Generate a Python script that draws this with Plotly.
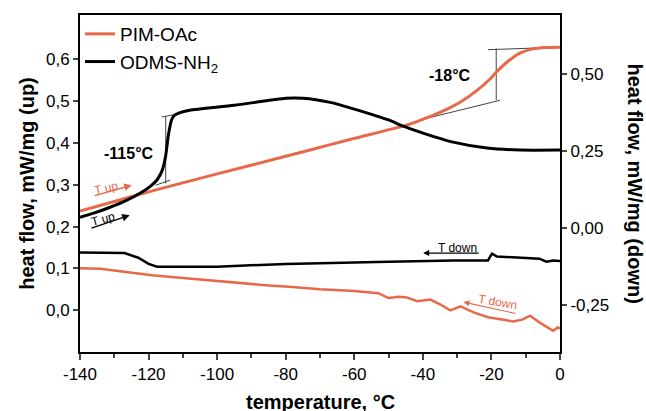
import plotly.graph_objects as go

# ---------------- data ----------------
# heating curves (left axis, "up")
pim_up_T = [-140, -130, -120, -100, -80, -67, -60, -45, -40.8, -35, -29, -24.3, -20.4, -18.6, -15.5, -11.7, -7.9, -4, 0]
pim_up_V = [0.237, 0.260, 0.283, 0.326, 0.368, 0.396, 0.411, 0.442, 0.454, 0.473, 0.498, 0.525, 0.553, 0.569, 0.593, 0.615, 0.625, 0.628, 0.629]

odms_up_T = [-140, -136, -131.6, -126.6, -122, -119.5, -117.5, -116, -115, -114.2, -113.3, -112.5, -111, -108, -95, -80, -75, -67, -60, -50, -45.7, -40.8, -31.2, -21.3, -11.7, 0]
odms_up_V = [0.222, 0.232, 0.245, 0.262, 0.282, 0.296, 0.312, 0.335, 0.370, 0.420, 0.455, 0.466, 0.472, 0.478, 0.490, 0.507, 0.507, 0.497, 0.481, 0.455, 0.440, 0.426, 0.402, 0.388, 0.383, 0.383]

# cooling curves (right axis, "down")
odms_down_T = [-140, -127, -123, -120, -117.5, -110, -100, -80, -67, -50, -31, -21, -20.3, -19.8, -18.4, -12, -6, -4, -2, 0]
odms_down_V = [-0.078, -0.080, -0.095, -0.115, -0.124, -0.125, -0.124, -0.115, -0.111, -0.108, -0.104, -0.104, -0.090, -0.082, -0.091, -0.094, -0.098, -0.108, -0.104, -0.106]

pim_down_T = [-140, -134, -126, -119, -110, -100, -92, -85, -78, -70, -60, -53, -50, -47, -45, -41.6, -37.8, -35, -32, -29, -25, -21, -16, -13.7, -11, -8.7, -6, -4, -2, -0.6, 0]
pim_down_V = [-0.129, -0.131, -0.142, -0.152, -0.161, -0.171, -0.177, -0.185, -0.190, -0.197, -0.203, -0.210, -0.226, -0.222, -0.223, -0.236, -0.231, -0.246, -0.266, -0.253, -0.273, -0.288, -0.297, -0.302, -0.296, -0.283, -0.305, -0.318, -0.332, -0.321, -0.325]

# Tg construction lines (left axis)
tg_odms_vert_T = [-115, -115]
tg_odms_vert_V = [0.303, 0.464]
tg_odms_hi_T = [-116.2, -112.9]
tg_odms_hi_V = [0.462, 0.467]
tg_odms_lo_T = [-117.9, -113.7]
tg_odms_lo_V = [0.299, 0.311]

tg_pim_vert_T = [-18.6, -18.6]
tg_pim_vert_V = [0.502, 0.626]
tg_pim_hi_T = [-21, -0.6]
tg_pim_hi_V = [0.623, 0.629]
tg_pim_lo_T = [-40.8, -17.5]
tg_pim_lo_V = [0.455, 0.502]

x_ticks = [-140, -120, -100, -80, -60, -40, -20, 0]
x_ticktext = ["-140", "-120", "-100", "-80", "-60", "-40", "-20", "0"]
yl_ticks = [0.0, 0.1, 0.2, 0.3, 0.4, 0.5, 0.6]
yl_ticktext = ["0,0", "0,1", "0,2", "0,3", "0,4", "0,5", "0,6"]
yr_ticks = [-0.25, 0.0, 0.25, 0.5]
yr_ticktext = ["-0,25", "0,00", "0,25", "0,50"]

ORANGE = "#E8684A"
BLACK = "#000000"
GRAY = "#444444"
FONT = "Liberation Sans, Arial, sans-serif"

fig = go.Figure()

# construction lines
for tx, ty in [(tg_odms_vert_T, tg_odms_vert_V), (tg_odms_hi_T, tg_odms_hi_V), (tg_odms_lo_T, tg_odms_lo_V),
               (tg_pim_vert_T, tg_pim_vert_V), (tg_pim_hi_T, tg_pim_hi_V), (tg_pim_lo_T, tg_pim_lo_V)]:
    fig.add_trace(go.Scatter(x=tx, y=ty, mode="lines", line=dict(color=GRAY, width=1),
                             showlegend=False, hoverinfo="skip"))

fig.add_trace(go.Scatter(x=pim_down_T, y=pim_down_V, yaxis="y2", mode="lines",
                         line=dict(color=ORANGE, width=2.5), showlegend=False))
fig.add_trace(go.Scatter(x=odms_down_T, y=odms_down_V, yaxis="y2", mode="lines",
                         line=dict(color=BLACK, width=2.5), showlegend=False))
fig.add_trace(go.Scatter(x=pim_up_T, y=pim_up_V, mode="lines", name="PIM-OAc",
                         line=dict(color=ORANGE, width=3, shape="spline", smoothing=0.6)))
fig.add_trace(go.Scatter(x=odms_up_T, y=odms_up_V, mode="lines", name="ODMS-NH<sub>2</sub>",
                         line=dict(color=BLACK, width=3, shape="spline", smoothing=0.6)))

ann = []
# Tg labels
ann.append(dict(x=-125.7, y=0.374, xref="x", yref="y", text="<b>-115°C</b>", showarrow=False,
                font=dict(size=16, color="black")))
ann.append(dict(x=-32, y=0.562, xref="x", yref="y", text="<b>-18°C</b>", showarrow=False,
                font=dict(size=16, color="black")))
# T up arrows
ann.append(dict(x=-124.9, y=0.299, ax=-136.1, ay=0.273, xref="x", yref="y", axref="x", ayref="y",
                text="", showarrow=True, arrowhead=2, arrowsize=1, arrowwidth=1.5, arrowcolor=ORANGE))
ann.append(dict(x=-132.4, y=0.293, xref="x", yref="y", text="T up", textangle=-12, showarrow=False,
                font=dict(size=12, color=ORANGE)))
ann.append(dict(x=-125.5, y=0.227, ax=-137.1, ay=0.195, xref="x", yref="y", axref="x", ayref="y",
                text="", showarrow=True, arrowhead=2, arrowsize=1, arrowwidth=1.5, arrowcolor=BLACK))
ann.append(dict(x=-133.3, y=0.219, xref="x", yref="y", text="T up", textangle=-15, showarrow=False,
                font=dict(size=12, color=BLACK)))
# T down arrows
ann.append(dict(x=-39.9, y=-0.080, ax=-23.3, ay=-0.080, xref="x", yref="y2", axref="x", ayref="y2",
                text="", showarrow=True, arrowhead=2, arrowsize=1, arrowwidth=1.2, arrowcolor=BLACK))
ann.append(dict(x=-30, y=-0.062, xref="x", yref="y2", text="T down", showarrow=False,
                font=dict(size=12, color=BLACK)))
ann.append(dict(x=-28.2, y=-0.239, ax=-12.5, ay=-0.277, xref="x", yref="y2", axref="x", ayref="y2",
                text="", showarrow=True, arrowhead=2, arrowsize=1, arrowwidth=1.2, arrowcolor=ORANGE))
ann.append(dict(x=-18.3, y=-0.240, xref="x", yref="y2", text="T down", textangle=10, showarrow=False,
                font=dict(size=12, color=ORANGE)))
# x axis title
ann.append(dict(x=0.5, y=0.0, xref="paper", yref="paper", xanchor="center", yanchor="top",
                yshift=-37, text="<b>temperature, °C</b>", showarrow=False,
                font=dict(size=20, color="black")))
# right axis title (reads top to bottom)
ann.append(dict(x=1.0, y=0.5, xref="paper", yref="paper", xanchor="center", yanchor="middle",
                xshift=75, text="<b>heat flow, mW/mg (down)</b>", textangle=90, showarrow=False,
                font=dict(size=20, color="black")))

fig.update_layout(
    width=646, height=411,
    margin=dict(l=80, r=86, t=15, b=59, autoexpand=False),
    paper_bgcolor="white", plot_bgcolor="white",
    font=dict(family=FONT, color="black"),
    showlegend=True,
    legend=dict(x=0.0, y=1.0, xanchor="left", yanchor="top", bgcolor="rgba(0,0,0,0)",
                font=dict(size=19), tracegroupgap=0, itemwidth=30),
    xaxis=dict(range=[-140, 0], tickvals=x_ticks, ticktext=x_ticktext, ticks="outside", ticklen=6,
               tickwidth=1.5, showline=True, linewidth=2, linecolor="black", mirror=True,
               showgrid=False, zeroline=False, tickfont=dict(size=17), automargin=False,
               minor=dict(dtick=10, tick0=0, ticks="outside", ticklen=4, tickwidth=1.5)),
    yaxis=dict(range=[-0.1, 0.706], tickvals=yl_ticks, ticktext=yl_ticktext, ticks="outside", ticklen=5,
               tickwidth=1.5, showline=True, linewidth=2, linecolor="black", showgrid=False,
               zeroline=False, tickfont=dict(size=17), automargin=False,
               title=dict(text="<b>heat flow, mW/mg (up)</b>", font=dict(size=20), standoff=6)),
    yaxis2=dict(range=[-0.401, 0.693], overlaying="y", side="right", tickvals=yr_ticks,
                ticktext=yr_ticktext, ticks="outside", ticklen=5, tickwidth=1.5, showline=True,
                linewidth=2, linecolor="black", showgrid=False, zeroline=False, tickfont=dict(size=17),
                automargin=False),
    annotations=ann,
)

fig.write_html("out.html")
